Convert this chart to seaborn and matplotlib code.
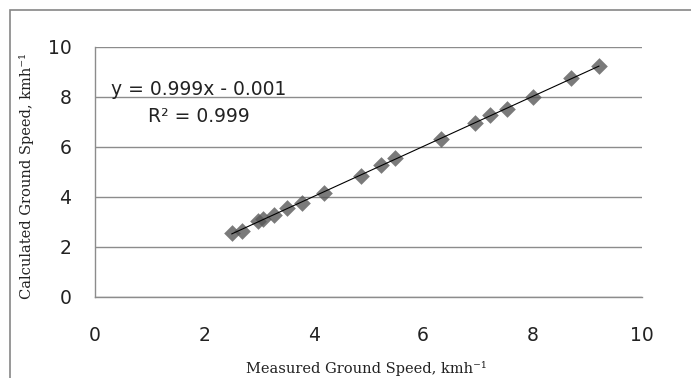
import matplotlib
matplotlib.use("Agg")
import matplotlib.pyplot as plt
import seaborn as sns
import pandas as pd
from matplotlib.patches import Rectangle

# measured vs calculated ground speed (km/h)
measured = [2.50, 2.68, 2.98, 3.07, 3.28, 3.52, 3.79, 4.18, 4.87, 5.23, 5.49,
            6.33, 6.95, 7.22, 7.53, 8.02, 8.71, 9.22]
calculated = [2.55, 2.64, 3.02, 3.12, 3.27, 3.56, 3.76, 4.14, 4.84, 5.27, 5.54,
              6.30, 6.96, 7.27, 7.51, 8.00, 8.74, 9.23]
ticks = [0, 2, 4, 6, 8, 10]

df = pd.DataFrame({'measured': measured, 'calculated': calculated})

sns.set_style("white")
plt.rcParams['font.family'] = ['DejaVu Sans']

fig = plt.figure(figsize=(6.91, 3.78), dpi=100)
ax = fig.add_axes([95/691, 1 - 296.7/378, (641.7-95)/691, (296.7-46.7)/378])

# outer chart frame (clipped at right/bottom like the source)
fig.patches.append(Rectangle((10/691, -0.2), 1.2, (378-10)/378 + 0.2,
                             transform=fig.transFigure, fill=False,
                             edgecolor='#868686', linewidth=1.2))

sns.regplot(data=df, x='measured', y='calculated', ax=ax, ci=None,
            marker='D', scatter_kws={'s': 72, 'color': '#595959', 'linewidths': 0},
            line_kws={'color': 'black', 'linewidth': 0.8})

ax.set_xlim(0, 10)
ax.set_ylim(0, 10)
ax.set_xticks(ticks)
ax.set_yticks(ticks)
ax.grid(True, axis='y', color='#8c8c8c', linewidth=1)
ax.set_axisbelow(True)
for side in ['top', 'right']:
    ax.spines[side].set_visible(False)
for side in ['left', 'bottom']:
    ax.spines[side].set_color('#8c8c8c')
    ax.spines[side].set_linewidth(1)

ax.tick_params(axis='y', length=0, pad=17, labelsize=13.5, labelcolor='#222222')
ax.tick_params(axis='x', length=0, pad=21, labelsize=13.5, labelcolor='#222222')

ax.set_xlabel('Measured Ground Speed, kmh⁻¹', family='DejaVu Serif',
              fontsize=10.5, color='#222222')
ax.set_ylabel('Calculated Ground Speed, kmh⁻¹', family='DejaVu Serif',
              fontsize=10.5, color='#222222')
ax.xaxis.set_label_coords(0.497, -0.258)
ax.yaxis.set_label_coords(-0.112, 0.483)

ax.text(0.29, 8.3, 'y = 0.999x - 0.001', fontsize=13.5, va='center', color='#222222')
ax.text(0.97, 7.2, 'R² = 0.999', fontsize=13.5, va='center', color='#222222')

plt.savefig('out.png', dpi=100)
